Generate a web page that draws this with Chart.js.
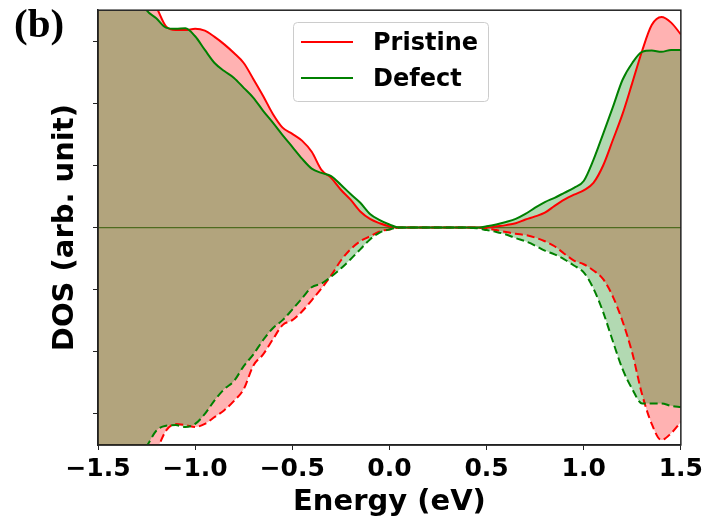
<!DOCTYPE html>
<html>
<head>
<meta charset="utf-8">
<script src="https://cdn.jsdelivr.net/npm/chart.js@4"></script>
<style>
body { margin: 0; background: #fff; }
#wrap { width: 707px; height: 520px; }
</style>
</head>
<body>
<div id="wrap"><canvas id="myChart" width="707" height="520"></canvas></div>
<script>
// energy grid (eV)
const energy = [-1.50, -1.45, -1.40, -1.35, -1.30, -1.25, -1.20, -1.15, -1.10, -1.05,
                -1.00, -0.95, -0.90, -0.85, -0.80, -0.75, -0.70, -0.65, -0.60, -0.55,
                -0.50, -0.45, -0.40, -0.35, -0.30, -0.25, -0.20, -0.15, -0.10, -0.05,
                 0.00,  0.05,  0.10,  0.15,  0.20,  0.25,  0.30,  0.35,  0.40,  0.45,
                 0.50,  0.55,  0.60,  0.65,  0.70,  0.75,  0.80,  0.85,  0.90,  0.95,
                 1.00,  1.05,  1.10,  1.15,  1.20,  1.25,  1.30,  1.35,  1.40,  1.45, 1.50];

// spin up (solid)
const pristineUp = [4.90, 4.65, 4.40, 4.15, 3.95, 3.79, 3.55, 3.24, 3.18, 3.18,
                    3.20, 3.17, 3.07, 2.95, 2.81, 2.65, 2.39, 2.12, 1.83, 1.61,
                    1.51, 1.40, 1.22, 0.93, 0.80, 0.61, 0.45, 0.26, 0.14, 0.07,
                    0.02, 0, 0, 0, 0, 0, 0, 0, 0, 0,
                    0, 0.02, 0.04, 0.07, 0.13, 0.18, 0.24, 0.35, 0.45, 0.53,
                    0.60, 0.72, 1.00, 1.41, 1.83, 2.33, 2.84, 3.26, 3.39, 3.30, 3.11];
const defectUp = [4.60, 4.40, 4.20, 4.00, 3.80, 3.50, 3.37, 3.22, 3.20, 3.21,
                  3.08, 2.86, 2.65, 2.52, 2.41, 2.25, 2.09, 1.88, 1.69, 1.49,
                  1.30, 1.11, 0.95, 0.88, 0.83, 0.69, 0.54, 0.40, 0.22, 0.12,
                  0.05, 0, 0, 0, 0, 0, 0, 0, 0, 0,
                  0.02, 0.05, 0.09, 0.14, 0.22, 0.32, 0.41, 0.48, 0.56, 0.64,
                  0.75, 1.09, 1.51, 1.94, 2.38, 2.65, 2.83, 2.85, 2.83, 2.86, 2.86];

// spin down (dashed)
const pristineDown = [-4.60, -4.40, -4.20, -4.00, -3.85, -3.70, -3.58, -3.27, -3.16, -3.18,
                      -3.21, -3.16, -3.05, -2.94, -2.79, -2.60, -2.22, -2.04, -1.80, -1.57,
                      -1.49, -1.35, -1.17, -0.98, -0.77, -0.53, -0.35, -0.22, -0.14, -0.06,
                      -0.03, 0, 0, 0, 0, 0, 0, 0, 0, 0,
                      -0.01, -0.04, -0.07, -0.10, -0.12, -0.16, -0.22, -0.30, -0.42, -0.53,
                      -0.59, -0.69, -0.83, -1.11, -1.51, -2.02, -2.68, -3.16, -3.42, -3.31, -3.13];
const defectDown = [-4.40, -4.20, -4.00, -3.85, -3.70, -3.52, -3.27, -3.19, -3.18, -3.21,
                    -3.16, -3.00, -2.78, -2.60, -2.47, -2.23, -2.04, -1.81, -1.62, -1.49,
                    -1.32, -1.14, -0.96, -0.90, -0.79, -0.66, -0.51, -0.35, -0.19, -0.08,
                    -0.03, 0, 0, 0, 0, 0, 0, 0, 0, -0.01,
                    -0.04, -0.07, -0.11, -0.17, -0.22, -0.29, -0.37, -0.43, -0.51, -0.61,
                    -0.72, -0.98, -1.36, -1.83, -2.28, -2.60, -2.83, -2.83, -2.83, -2.87, -2.89];

const yTicks = [-3, -2, -1, 0, 1, 2, 3];

const RED = 'rgb(255, 0, 0)';
const GREEN = 'rgb(0, 128, 0)';
const RED_FILL = 'rgba(255, 0, 0, 0.3)';
const GREEN_FILL = 'rgba(0, 128, 0, 0.3)';

function points(values) {
    return energy.map((e, i) => ({x: e, y: values[i]}));
}

// zero line over the fills, under the curves
const zeroLine = {
    id: 'zeroLine',
    beforeDatasetsDraw(chart) {
        const {ctx, chartArea} = chart;
        const y = chart.scales.y.getPixelForValue(0);
        ctx.save();
        ctx.strokeStyle = '#4e6b1f';
        ctx.lineWidth = 1.2;
        ctx.beginPath();
        ctx.moveTo(chartArea.left, y);
        ctx.lineTo(chartArea.right, y);
        ctx.stroke();
        ctx.restore();
    }
};

// frame, legend box and panel tag
const decorations = {
    id: 'decorations',
    afterDraw(chart) {
        const {ctx, chartArea} = chart;
        ctx.save();
        ctx.strokeStyle = '#222';
        ctx.lineWidth = 1.5;
        ctx.strokeRect(chartArea.left, chartArea.top, chartArea.right - chartArea.left, chartArea.bottom - chartArea.top);

        ctx.fillStyle = 'rgba(255,255,255,0.8)';
        ctx.strokeStyle = '#cccccc';
        ctx.lineWidth = 1;
        ctx.beginPath();
        ctx.roundRect(293.5, 22.5, 195, 79, 4);
        ctx.fill();
        ctx.stroke();

        const items = [chart.data.datasets[2], chart.data.datasets[0]];
        const rows = [42, 78];
        ctx.font = 'bold 24px "DejaVu Sans"';
        ctx.textBaseline = 'middle';
        items.forEach((ds, i) => {
            ctx.strokeStyle = ds.borderColor;
            ctx.lineWidth = 2;
            ctx.beginPath();
            ctx.moveTo(301, rows[i]);
            ctx.lineTo(353, rows[i]);
            ctx.stroke();
            ctx.fillStyle = '#000';
            ctx.fillText(ds.label, 373, rows[i] + 1.5);
        });

        ctx.font = 'bold 41px "Liberation Serif"';
        ctx.textBaseline = 'alphabetic';
        ctx.fillText('(b)', 14, 37);
        ctx.restore();
    }
};

const ctx = document.getElementById('myChart').getContext('2d');

const myChart = new Chart(ctx, {
    type: 'line',
    data: {
        datasets: [
            {label: 'Defect', data: points(defectUp), borderColor: GREEN, backgroundColor: GREEN_FILL, fill: 'origin'},
            {label: 'Defect down', data: points(defectDown), borderColor: GREEN, backgroundColor: GREEN_FILL, fill: 'origin', borderDash: [8, 4]},
            {label: 'Pristine', data: points(pristineUp), borderColor: RED, backgroundColor: RED_FILL, fill: 'origin'},
            {label: 'Pristine down', data: points(pristineDown), borderColor: RED, backgroundColor: RED_FILL, fill: 'origin', borderDash: [8, 4]}
        ]
    },
    options: {
        responsive: false,
        animation: false,
        devicePixelRatio: 1,
        layout: {padding: {top: 9, right: 24, left: 0, bottom: 0}},
        elements: {
            point: {radius: 0},
            line: {borderWidth: 2, cubicInterpolationMode: 'monotone'}
        },
        plugins: {
            legend: {display: false},
            tooltip: {enabled: false},
            filler: {drawTime: 'beforeDatasetsDraw'}
        },
        scales: {
            x: {
                type: 'linear',
                min: -1.5,
                max: 1.5,
                ticks: {
                    stepSize: 0.5,
                    autoSkip: false,
                    maxRotation: 0,
                    padding: 4,
                    color: '#000',
                    font: {family: 'DejaVu Sans', size: 25, weight: 'bold'},
                    callback: v => v.toFixed(1).replace('-', '\u2212')
                },
                grid: {drawOnChartArea: false, tickLength: 5, color: '#222'},
                border: {color: '#222', width: 1.5},
                title: {
                    display: true,
                    text: 'Energy (eV)',
                    color: '#000',
                    font: {family: 'DejaVu Sans', size: 29, weight: 'bold', lineHeight: 1},
                    padding: {top: 0, bottom: 3}
                },
                afterFit: s => { s.height = 75; }
            },
            y: {
                min: -3.5,
                max: 3.5,
                afterBuildTicks: s => { s.ticks = yTicks.map(v => ({value: v})); },
                ticks: {callback: () => ''},
                grid: {drawOnChartArea: false, tickLength: 5, color: '#222'},
                border: {color: '#222', width: 1.5},
                title: {
                    display: true,
                    text: 'DOS (arb. unit)',
                    color: '#000',
                    font: {family: 'DejaVu Sans', size: 29, weight: 'bold', lineHeight: 1},
                    padding: {top: 51, bottom: 0}
                },
                afterFit: s => { s.width = 98; }
            }
        }
    },
    plugins: [zeroLine, decorations]
});
</script>
</body>
</html>
